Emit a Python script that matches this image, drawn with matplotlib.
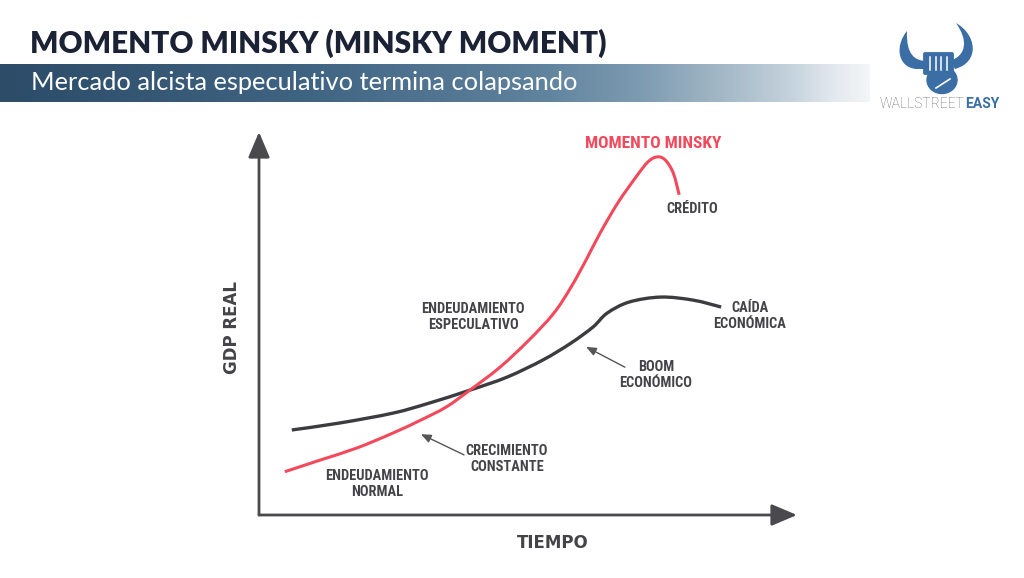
import numpy as np
import matplotlib
matplotlib.use("Agg")
import matplotlib.pyplot as plt
from matplotlib import font_manager
from matplotlib.colors import LinearSegmentedColormap
from matplotlib.patches import Ellipse, FancyBboxPatch, PathPatch
from matplotlib.path import Path

# ---------------- data ----------------
credit_t = [4.8, 11.5, 18.2, 24.9, 30.1, 34.8, 39.2, 44.8, 50.2, 54.8, 58.0, 60.8,
            63.4, 66.7, 70.1, 72.3, 74.0, 75.5, 77.0, 78.1]
credit_v = [11.3, 14.4, 17.5, 21.4, 24.8, 28.2, 32.6, 38.6, 45.7, 52.7, 59.5, 66.6,
            73.6, 81.5, 88.3, 92.2, 93.5, 92.7, 89.3, 83.6]
gdp_t = [6.1, 14.9, 24.9, 31.6, 39.2, 46.1, 52.8, 58.0, 62.1, 64.7, 68.8, 74.7, 80.7, 85.9]
gdp_v = [22.2, 24.0, 26.6, 29.2, 32.6, 36.0, 40.5, 44.9, 49.1, 52.7, 55.6, 56.9, 56.1, 54.3]

title = "MOMENTO MINSKY (MINSKY MOMENT)"
subtitle = "Mercado alcista especulativo termina colapsando"
x_label = "TIEMPO"
y_label = "GDP REAL"
peak_label = "MOMENTO MINSKY"
labels = ["ENDEUDAMIENTO\nESPECULATIVO", "ENDEUDAMIENTO\nNORMAL", "CRECIMIENTO\nCONSTANTE",
          "BOOM\nECONÓMICO", "CAÍDA\nECONÓMICA", "CRÉDITO"]

RED = "#f2495c"
DARK = "#3c3c40"
AXC = "#4a4a4e"
TXT = "#444448"
BLUE = "#3b6ea5"

names = {f.name for f in font_manager.fontManager.ttflist}
if "Roboto Condensed" in names:
    COND, CST, SCALE = "Roboto Condensed", "normal", 1.0
else:
    COND, CST, SCALE = "DejaVu Sans", "condensed", 0.82


def smooth_path(xs, ys):
    """Catmull-Rom through the read points, expressed as cubic Bezier path segments."""
    p = np.column_stack([xs, ys]).astype(float)
    ext = np.vstack([p[0], p, p[-1]])
    verts = [p[0]]
    codes = [Path.MOVETO]
    for i in range(1, len(ext) - 2):
        p0, p1, p2, p3 = ext[i - 1], ext[i], ext[i + 1], ext[i + 2]
        verts += [p1 + (p2 - p0) / 6.0, p2 - (p3 - p1) / 6.0, p2]
        codes += [Path.CURVE4] * 3
    return Path(verts, codes)


W, H = 1024, 578
fig = plt.figure(figsize=(W / 100, H / 100), dpi=100)
fig.patch.set_facecolor("white")

# decoration axes in pixel coordinates
bg = fig.add_axes([0, 0, 1, 1])
bg.set_xlim(0, W)
bg.set_ylim(H, 0)
bg.axis("off")

cmap = LinearSegmentedColormap.from_list(
    "ban", [(0.0, "#2c4c68"), (0.35, "#3f6482"), (0.62, "#5f829d"), (0.74, "#7e9cb2"),
            (0.82, "#9fb4c4"), (0.91, "#c4d2dc"), (0.96, "#e3e9ee"), (1.0, "#f3f5f7")])
grad = np.linspace(0, 1, 512).reshape(1, -1)
bg.imshow(grad, cmap=cmap, extent=[0, 870, 102, 64], aspect="auto", zorder=1)

bg.text(30, 43, title, fontsize=21.3, fontweight="heavy", family=["Lato", "DejaVu Sans"],
        color="#1b2236", va="center", ha="left", zorder=3)
bg.text(31, 82, subtitle, fontsize=18.3, family=["Lato", "DejaVu Sans"], color="white",
        va="center", ha="left", zorder=3)

# logo
left_horn = Path([(907, 31), (895, 45), (897, 67), (916, 69), (927, 69), (927, 61),
                  (915, 61), (906, 55), (907, 31)],
                 [Path.MOVETO, Path.CURVE4, Path.CURVE4, Path.CURVE4, Path.LINETO, Path.LINETO,
                  Path.CURVE4, Path.CURVE4, Path.CURVE4])
right_horn = Path([(956, 23), (977, 35), (980, 62), (955, 69), (950, 61),
                   (967, 55), (968, 40), (956, 23)],
                  [Path.MOVETO, Path.CURVE4, Path.CURVE4, Path.CURVE4, Path.LINETO,
                   Path.CURVE4, Path.CURVE4, Path.CURVE4])
bg.add_patch(PathPatch(left_horn, color=BLUE, lw=0, zorder=3))
bg.add_patch(PathPatch(right_horn, color=BLUE, lw=0, zorder=3))
bg.add_patch(Ellipse((942, 80), 30, 27, color=BLUE, zorder=3))
bg.add_patch(FancyBboxPatch((925, 54), 27, 19, boxstyle="round,pad=1.2", color=BLUE, zorder=4))
for gx in (930, 935.5, 941, 946.5):
    bg.plot([gx, gx], [57, 70], color="white", lw=1.1, zorder=5)
bg.plot([936, 950], [88, 79], color="white", lw=1.2, zorder=5)
ws = bg.text(880, 104, "WALLSTREET", fontsize=10, fontweight="light", family="Roboto",
             color="#6a6a6e", va="center", ha="left", zorder=3)
bg.annotate("EASY", xy=(1, 0), xycoords=ws, va="bottom", ha="left", fontsize=10,
            fontweight="bold", family="Roboto", color=BLUE, zorder=3)

# ---------------- chart axes ----------------
L, R, B, T = 259, 797, 515, 132
ax = fig.add_axes([L / W, (H - B) / H, (R - L) / W, (B - T) / H])
ax.set_xlim(0, 100)
ax.set_ylim(0, 100)
ax.axis("off")
ax.patch.set_alpha(0)

arr = dict(arrowstyle="-|>,head_length=1.3,head_width=0.55", color=AXC, lw=2,
           shrinkA=0, shrinkB=0, mutation_scale=12)
ax.annotate("", xy=(100, 0), xytext=(0, 0), arrowprops=arr, annotation_clip=False)
ax.annotate("", xy=(0, 100), xytext=(0, 0), arrowprops=arr, annotation_clip=False)

ax.add_patch(PathPatch(smooth_path(gdp_t, gdp_v), fill=False, edgecolor=DARK, lw=2.4,
                       capstyle="butt", zorder=3))
ax.add_patch(PathPatch(smooth_path(credit_t, credit_v), fill=False, edgecolor=RED, lw=2.2,
                       capstyle="butt", zorder=4))

parr = dict(arrowstyle="-|>,head_length=0.6,head_width=0.25", color="#555558", lw=1,
            shrinkA=0, shrinkB=0, mutation_scale=10)
ax.annotate("", xy=(60.8, 43.9), xytext=(68.0, 38.6), arrowprops=parr)
ax.annotate("", xy=(30.1, 21.1), xytext=(38.1, 15.7), arrowprops=parr)

lab_kw = dict(fontsize=10.4 * SCALE, fontweight="bold", family=COND, fontstretch=CST,
              color=TXT, ha="center", va="center", linespacing=1.1)
pos = [(473, 317), (377, 484), (507, 459), (656, 375), (750, 316), (692, 209)]
for (px, py), s in zip(pos, labels):
    bg.text(px, py, s, **lab_kw)
bg.text(653, 143, peak_label, fontsize=12.5 * SCALE, fontweight="bold", family=COND,
        fontstretch=CST, color=RED, ha="center", va="center")

bg.text(553, 543, x_label, fontsize=12, fontweight="bold", family="DejaVu Sans",
        color=TXT, ha="center", va="center")
bg.text(232, 328, y_label, fontsize=12, fontweight="bold", family="DejaVu Sans",
        color=TXT, ha="center", va="center", rotation=90)

fig.savefig("out.png", dpi=100, facecolor="white")
